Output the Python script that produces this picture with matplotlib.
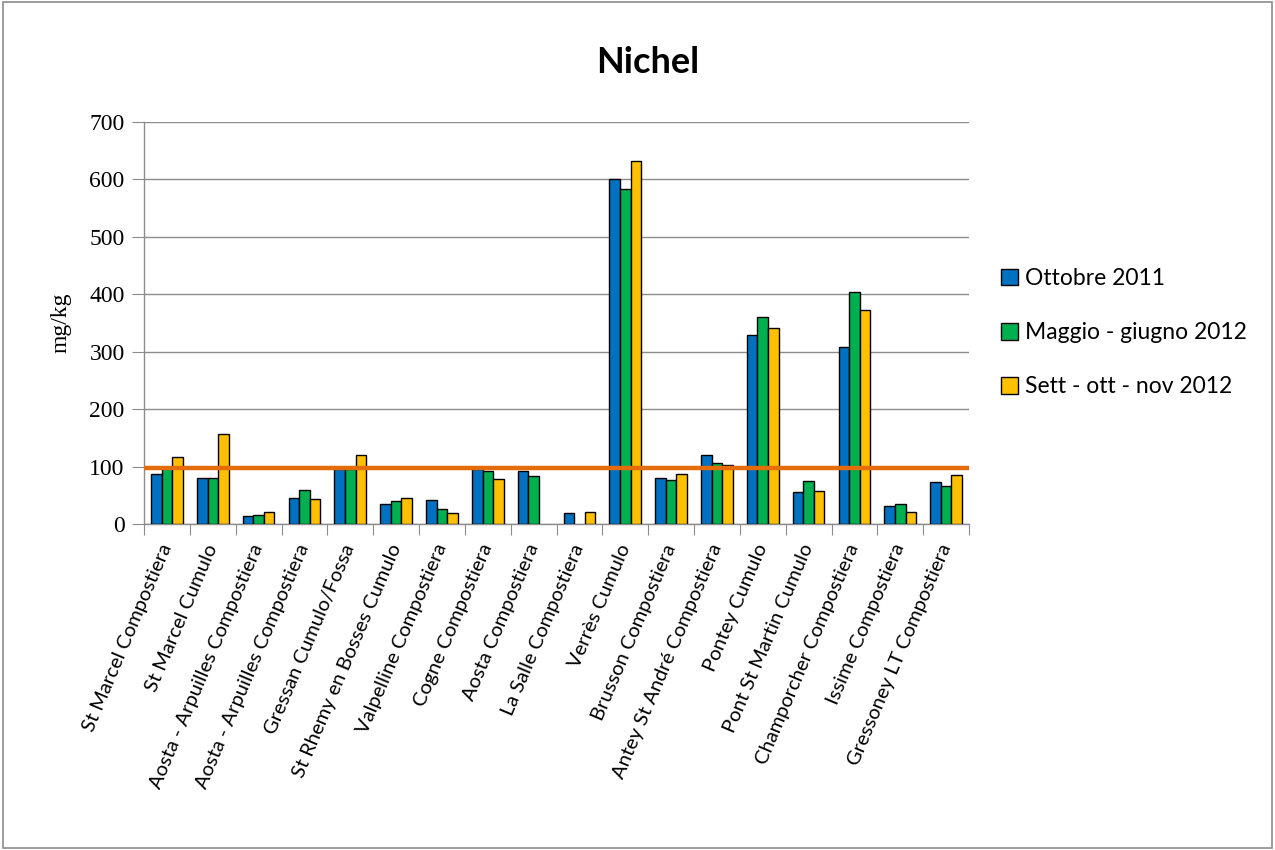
import numpy as np
import matplotlib.pyplot as plt
from matplotlib.patches import Rectangle

# ====================================================================================
# Data (mg/kg)
sites = [
    'St Marcel Compostiera', 'St Marcel Cumulo', 'Aosta - Arpuilles Compostiera',
    'Aosta - Arpuilles Compostiera', 'Gressan Cumulo/Fossa', 'St Rhemy en Bosses Cumulo',
    'Valpelline Compostiera', 'Cogne Compostiera', 'Aosta Compostiera',
    'La Salle Compostiera', 'Verrès Cumulo', 'Brusson Compostiera',
    'Antey St André Compostiera', 'Pontey Cumulo', 'Pont St Martin Cumulo',
    'Champorcher Compostiera', 'Issime Compostiera', 'Gressoney LT Compostiera',
]
ottobre_2011 = [87, 80, 14, 46, 96, 34, 41, 96, 92, 19, 600, 80, 120, 329, 56, 308, 32, 73]
maggio_2012 = [97, 80, 16, 60, 96, 40, 26, 92, 84, np.nan, 583, 77, 106, 360, 75, 404, 35, 66]
sett_2012 = [116, 157, 21, 43, 121, 46, 19, 78, np.nan, 21, 632, 87, 103, 341, 58, 372, 21, 85]
limit_value = 97

series_names = ['Ottobre 2011', 'Maggio - giugno 2012', 'Sett - ott - nov 2012']
series_colors = ['#0070C0', '#00B050', '#FFC000']

# ====================================================================================
fig = plt.figure(figsize=(12.75, 8.5), dpi=100)
ax = fig.add_axes([0.113, 0.3835, 0.647, 0.473])

x = np.arange(len(sites))
w = 0.23
for k, (vals, name, col) in enumerate(zip([ottobre_2011, maggio_2012, sett_2012],
                                          series_names, series_colors)):
    ax.bar(x + (k - 1) * w, vals, width=w, color=col, edgecolor='black',
           linewidth=1.0, label=name, zorder=3)

ax.axhline(limit_value, color='#E46C0A', linewidth=3.2, zorder=4)

ax.set_xlim(-0.5, len(sites) - 0.5)
ax.set_ylim(0, 700)
ax.set_yticks(np.arange(0, 701, 100))
ax.yaxis.grid(True, color='#8C8C8C', linewidth=1.0, zorder=0)
ax.set_axisbelow(True)

for s in ['top', 'right']:
    ax.spines[s].set_visible(False)
for s in ['left', 'bottom']:
    ax.spines[s].set_color('#8C8C8C')
    ax.spines[s].set_linewidth(1.0)

# ticks on category boundaries, labels at centers
ax.set_xticks(np.arange(-0.5, len(sites), 1.0))
ax.set_xticklabels([])
ax.set_xticks(x, minor=True)
ax.set_xticklabels(sites, minor=True, rotation=67, ha='right', va='center',
                   rotation_mode='anchor', fontsize=14.5, family='Lato')
ax.tick_params(axis='x', which='major', length=8, color='#8C8C8C', direction='out')
ax.tick_params(axis='x', which='minor', length=0, pad=15)
ax.tick_params(axis='y', length=9, color='#8C8C8C', direction='out', pad=5)
for lbl in ax.get_yticklabels():
    lbl.set_family('Liberation Serif')
    lbl.set_fontsize(17)

ax.set_ylabel('mg/kg', family='Liberation Serif', fontsize=17, labelpad=13)
fig.text(0.508, 0.927, 'Nichel', ha='center', va='center', fontsize=26,
         fontweight='bold', family='Lato')

fig.legend(loc='upper left', bbox_to_anchor=(0.769, 0.709), frameon=False,
           prop={'family': 'Lato', 'size': 16.5}, handlelength=0.75,
           handleheight=0.75, handletextpad=0.3, labelspacing=1.45)

# outer frame
fig.patches.append(Rectangle((0.002, 0.002), 0.996, 0.996, transform=fig.transFigure,
                             fill=False, edgecolor='#8C8C8C', linewidth=1.2))

fig.savefig('out.png', dpi=100)
